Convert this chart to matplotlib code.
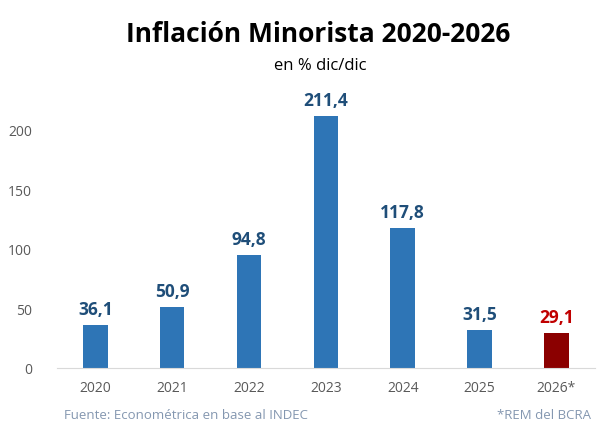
import matplotlib.pyplot as plt

plt.rcParams['font.family'] = ['Open Sans', 'DejaVu Sans']

years = ["2020", "2021", "2022", "2023", "2024", "2025", "2026*"]
values = [36.1, 50.9, 94.8, 211.4, 117.8, 31.5, 29.1]
value_labels = ["36,1", "50,9", "94,8", "211,4", "117,8", "31,5", "29,1"]
yticks = [0, 50, 100, 150, 200]


def main():
    fig = plt.figure(figsize=(6.12, 4.35), dpi=100)
    ax = fig.add_axes([0.093, 0.152, 0.879, 0.63])

    x = list(range(len(years)))
    bar_colors = ["#2E75B6"] * (len(years) - 1) + ["#8B0000"]
    label_colors = ["#1F4E79"] * (len(years) - 1) + ["#C00000"]

    ax.bar(x, values, width=0.32, color=bar_colors)

    # value labels above bars
    for xi, v, lab, c in zip(x, values, value_labels, label_colors):
        ax.annotate(lab, (xi, v), xytext=(0, 5), textcoords="offset points",
                    ha="center", va="bottom", fontsize=12.5,
                    fontweight="bold", color=c)

    ax.set_xlim(-0.5, len(years) - 0.5)
    ax.set_ylim(0, 230)
    ax.set_xticks(x)
    ax.set_xticklabels(years)
    ax.set_yticks(yticks)
    ax.tick_params(axis="both", length=0, labelsize=10, colors="#595959")
    ax.tick_params(axis="x", pad=9)
    ax.tick_params(axis="y", pad=18)

    for s in ["top", "right", "left"]:
        ax.spines[s].set_visible(False)
    ax.spines["bottom"].set_color("#D9D9D9")

    fig.text(0.52, 0.92, "Inflación Minorista 2020-2026", ha="center",
             va="center", fontsize=19, fontweight="bold", color="black")
    fig.text(0.523, 0.848, "en % dic/dic", ha="center", va="center",
             fontsize=12, color="black")

    fig.text(0.105, 0.045, "Fuente: Econométrica en base al INDEC",
             ha="left", va="center", fontsize=9.5, color="#8497B0")
    fig.text(0.965, 0.045, "*REM del BCRA", ha="right", va="center",
             fontsize=9.5, color="#8497B0")

    fig.savefig("out.png", dpi=100)


if __name__ == "__main__":
    main()
